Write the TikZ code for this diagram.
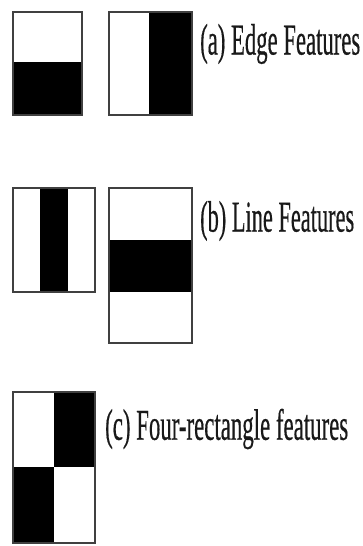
\documentclass[tikz,border=0pt]{standalone}
\usepackage{fontspec}
\setmainfont{Liberation Serif}
\newfontfamily\lblfont[FakeBold=0.6]{Liberation Serif}
\newcommand{\bigtxt}[2]{\resizebox{#1}{\height}{\lblfont\fontsize{44}{48}\selectfont #2}}
\begin{document}
\begin{tikzpicture}[x=1pt,y=-1pt,
  frame/.style={draw=black!75,line width=1.3pt},
  blk/.style={fill=black},
  lbl/.style={anchor=west,inner sep=0pt,text=black!90}]
\useasboundingbox (0,0) rectangle (362,546);
% (a) edge features
\fill[blk] (13,62) rectangle (82,115);
\draw[frame] (13,12) rectangle (82,115);
\fill[blk] (149,12) rectangle (192,115);
\draw[frame] (109,12) rectangle (192,115);
\node[lbl] (la) at (200,44) {\bigtxt{160pt}{(a) Edge Features}};
% (b) line features
\fill[blk] (40,188) rectangle (68,292);
\draw[frame] (13,188) rectangle (95,292);
\fill[blk] (109,240) rectangle (192,292);
\draw[frame] (109,188) rectangle (192,343);
\node[lbl] (lb) at (200,221) {\bigtxt{154pt}{(b) Line Features}};
% (c) four-rectangle features
\fill[blk] (54,392) rectangle (95,467);
\fill[blk] (13,467) rectangle (54,543);
\draw[frame] (13,392) rectangle (95,543);
\node[lbl] (lc) at (105,429) {\bigtxt{243pt}{(c) Four-rectangle features}};
\end{tikzpicture}
\end{document}
